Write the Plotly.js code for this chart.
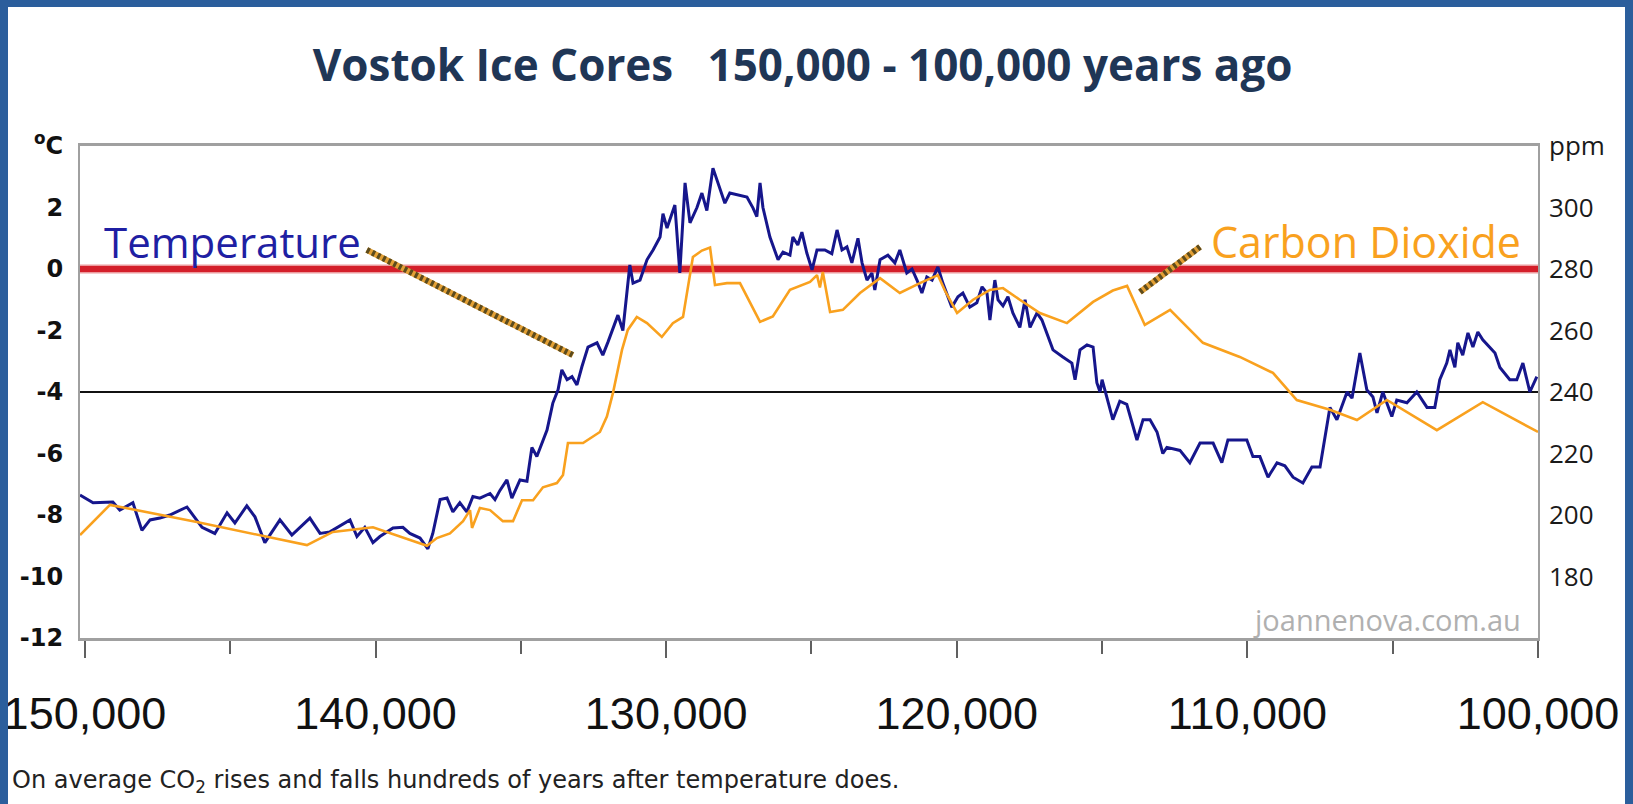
<!DOCTYPE html>
<html>
<head>
<meta charset="utf-8">
<script src="https://cdn.plot.ly/plotly-3.0.1.min.js"></script>
<style>
html,body{margin:0;padding:0;width:1633px;height:804px;overflow:hidden;background:#ffffff;}
#chart{position:absolute;left:0;top:0;width:1633px;height:804px;}
.bd{position:absolute;background:#2b5e9c;pointer-events:none;z-index:10;}
</style>
</head>
<body>
<div id="chart"></div>
<div class="bd" style="left:0;top:0;width:1633px;height:7px;"></div>
<div class="bd" style="left:0;top:0;width:8px;height:804px;"></div>
<div class="bd" style="left:1625px;top:0;width:8px;height:804px;"></div>
<script>
// ---- data (years before present) ----
const tempYears = [150170,149720,149040,148800,148350,148040,147760,147420,147080,146490,145970,145530,145110,144840,144430,144150,143810,143290,142880,142260,141910,141570,140880,140640,140370,140090,139850,139400,139060,138820,138470,138200,138030,137780,137540,137340,137100,136860,136650,136410,136060,135890,135720,135480,135310,135030,134790,134620,134450,134100,133900,133720,133590,133410,133240,133070,132900,132690,132380,132180,132000,131830,131660,131490,131250,131140,130900,130660,130450,130210,130110,129970,129700,129530,129350,129180,128940,128770,128600,128390,128220,127980,127810,127460,127220,127010,126880,126770,126670,126430,126150,125980,125740,125640,125470,125330,125160,124980,124810,124540,124300,124120,123950,123780,123610,123400,123260,123090,122920,122820,122640,122370,122130,121960,121720,121540,121370,121200,121030,120850,120650,120480,120170,119960,119790,119550,119310,119130,118960,118860,118690,118580,118410,118240,118070,117830,117650,117480,117240,117070,116900,116690,116350,116040,115930,115760,115520,115310,115180,115070,115000,114830,114630,114390,114150,113800,113590,113350,113110,112910,112770,112320,111980,111630,111180,110880,110670,110020,109810,109570,109290,108980,108710,108430,108090,107780,107500,107160,106920,106570,106400,106130,105890,105680,105540,105340,105030,104860,104510,104170,103820,103550,103380,103140,103030,102860,102760,102590,102410,102240,102070,101900,101660,101480,101310,100970,100730,100520,100280,100040];
const tempValues = [-7.35,-7.6,-7.58,-7.84,-7.6,-8.5,-8.16,-8.1,-8.0,-7.74,
-8.4,-8.6,-7.93,-8.26,-7.7,-8.06,-8.9,-8.16,-8.65,-8.1,
-8.6,-8.55,-8.16,-8.7,-8.4,-8.9,-8.7,-8.42,-8.4,-8.6,
-8.75,-9.1,-8.6,-7.5,-7.45,-7.9,-7.6,-7.9,-7.4,-7.45,
-7.3,-7.5,-7.2,-6.86,-7.45,-6.86,-6.9,-5.8,-6.1,-5.24,
-4.36,-3.93,-3.28,-3.6,-3.5,-3.77,-3.18,-2.54,-2.4,-2.8,
-2.37,-1.9,-1.5,-2.0,0.13,-0.46,-0.36,0.3,0.62,1.04,
1.8,1.33,2.08,-0.13,2.8,1.5,2.0,2.47,1.9,3.28,
2.8,2.14,2.47,2.4,2.34,1.98,1.7,2.8,2.0,1.04,
0.3,0.55,0.45,1.04,0.78,1.2,0.52,-0.03,0.62,0.62,
0.5,1.27,0.62,0.72,0.2,1.0,0.2,-0.36,-0.13,-0.68,
0.3,0.45,0.2,0.62,-0.13,0.0,-0.36,-0.78,-0.26,-0.36,
0.07,-0.46,-1.24,-0.9,-0.78,-1.24,-1.1,-0.58,-0.78,-1.66,
-0.36,-1.0,-1.2,-0.9,-1.43,-1.9,-1.0,-1.9,-1.43,-1.66,
-2.08,-2.63,-2.86,-3.06,-3.6,-2.63,-2.47,-2.54,-3.7,-4.0,
-3.6,-4.16,-4.9,-4.3,-4.4,-5.56,-4.9,-4.9,-5.3,-6.0,
-5.8,-5.9,-6.3,-5.66,-5.66,-6.3,-5.56,-5.56,-6.1,-6.1,
-6.77,-6.3,-6.4,-6.77,-6.96,-6.44,-6.44,-4.5,-4.9,-4.0,
-4.2,-2.73,-3.93,-4.16,-4.68,-4.0,-4.8,-4.26,-4.35,-4.0,
-4.5,-4.5,-3.6,-3.06,-2.63,-3.2,-2.4,-2.8,-2.08,-2.54,
-2.05,-2.3,-2.54,-2.73,-3.2,-3.6,-3.6,-3.06,-4.0,-3.5];

const co2Years = [150170,149140,146150,142360,141470,140090,138230,137890,137440,136990,136750,136680,136410,136060,135620,135270,134960,134580,134240,133760,133550,133380,132860,132280,132040,131830,131520,131320,131010,130660,130150,129770,129420,129080,128770,128490,128320,127910,127460,127120,126770,126330,125740,125050,124810,124710,124610,124360,123920,123330,122640,121960,121270,120650,120410,119990,119440,118860,118410,117830,117140,116210,115310,114630,114140,113530,112660,111530,110260,109120,108300,107160,106230,105200,103480,101900,100000];
const co2Values = [193.5,203.3,197.7,190.2,194.5,196,190,192.5,194,198,201.6,195.8,202.3,201.6,198,198,204.8,204.8,209,210.4,213,223.4,223.4,227,232,239.7,253.7,260.2,264.4,262.4,257.9,262.4,264.4,283.9,286,287,274.8,275.4,275.4,269,262.8,264.6,273.2,275.8,278,274,279,266,266.7,272.2,277,272.2,275.4,278,273,265.7,270,273.2,273.8,270,265.7,262.4,269.3,273,274.5,261.8,266.7,256,251.4,246.2,237.4,234.2,230.9,237.4,227.6,236.7,227];

if (tempYears.length !== tempValues.length) throw new Error('temp length ' + tempYears.length + ' vs ' + tempValues.length);
if (co2Years.length !== co2Values.length) throw new Error('co2 length ' + co2Years.length + ' vs ' + co2Values.length);

// ---- axis ticks ----
const xTickVals = [150000,140000,130000,120000,110000,100000];
const xTickText = ['150,000','140,000','130,000','120,000','110,000','100,000'];
const tempTickVals = [-12,-10,-8,-6,-4,-2,0,2,4];
const tempTickText = ['-12','-10','-8','-6','-4','-2','0','2','<sup>o</sup>C'];
const grayGridVals = [-12,-10,-8,-6,-2,2,4];
const co2TickVals = [180,200,220,240,260,280,300,320];
const co2TickText = ['180','200','220','240','260','280','300','ppm'];
const zeroLine = 0;
const refLine = -4;

const traces = [
  {x: tempYears, y: tempValues, type: 'scatter', mode: 'lines', name: 'Temperature',
   line: {color: '#16168c', width: 3}, xaxis: 'x', yaxis: 'y'},
  {x: co2Years, y: co2Values, type: 'scatter', mode: 'lines', name: 'Carbon Dioxide',
   line: {color: '#f9a11e', width: 2.6}, xaxis: 'x', yaxis: 'y2'}
];

const layout = {
  width: 1633, height: 804,
  margin: {l: 80, r: 95, t: 146, b: 166, pad: 0},
  paper_bgcolor: '#ffffff', plot_bgcolor: '#ffffff',
  showlegend: false,
  title: {
    text: 'Vostok Ice Cores\u00a0\u00a0\u00a0150,000 - 100,000 years ago',
    font: {family: 'Open Sans', size: 44, color: '#1f3656', weight: 'bold'},
    x: 0.4915, xref: 'container', xanchor: 'center',
    y: 0.919, yref: 'container', yanchor: 'middle'
  },
  xaxis: {
    range: [150170, 100000], showgrid: false, zeroline: false,
    showline: true, linecolor: '#a0a0a0', linewidth: 3, mirror: true,
    tickvals: xTickVals, ticktext: xTickText,
    ticks: 'outside', ticklen: 17, tickwidth: 2, tickcolor: '#606060',
    tickfont: {family: 'Liberation Sans, Arial', size: 45, color: '#111111'},
    ticklabelstandoff: 17, ticklabeloverflow: 'allow',
    minor: {dtick: 5000, tick0: 100000, ticks: 'outside', ticklen: 13, tickwidth: 2, tickcolor: '#606060', showgrid: false},
    automargin: false, fixedrange: true
  },
  xaxis2: {
    range: [150170, 100000], overlaying: 'x', anchor: 'y', side: 'bottom',
    showgrid: false, zeroline: false, showline: false,
    tickvals: xTickVals, showticklabels: false,
    ticks: 'inside', ticklen: 13, tickwidth: 2, tickcolor: '#606060',
    automargin: false
  },
  yaxis: {
    range: [-12, 4], tickvals: tempTickVals, ticktext: tempTickText,
    showgrid: false, zeroline: false,
    showline: true, linecolor: '#a0a0a0', linewidth: 2, mirror: true,
    ticks: '', ticklabelstandoff: 10,
    tickfont: {family: 'DejaVu Sans', size: 24, color: '#111111', weight: 'bold'},
    automargin: false, fixedrange: true
  },
  yaxis3: {
    range: [-12, 4], overlaying: 'y', anchor: 'x', side: 'left',
    tickvals: grayGridVals, showticklabels: false, ticks: '',
    showgrid: true, gridcolor: '#a6a6a6', gridwidth: 2, zeroline: false, showline: false,
    automargin: false, fixedrange: true
  },
  yaxis2: {
    range: [160, 320], overlaying: 'y', side: 'right', anchor: 'x',
    tickvals: co2TickVals, ticktext: co2TickText,
    showgrid: false, zeroline: false, showline: false, ticks: '',
    ticklabelstandoff: 10,
    tickfont: {family: 'Open Sans', size: 26, color: '#1a1a1a'},
    automargin: false, fixedrange: true
  },
  shapes: [
    {type: 'line', xref: 'paper', x0: 0, x1: 1, yref: 'y', y0: refLine, y1: refLine,
     line: {color: '#111111', width: 2}, layer: 'below'},
    {type: 'line', xref: 'paper', x0: 0, x1: 1, yref: 'y', y0: zeroLine, y1: zeroLine,
     line: {color: '#ec9a9d', width: 9}, layer: 'below'},
    {type: 'line', xref: 'paper', x0: 0, x1: 1, yref: 'y', y0: zeroLine, y1: zeroLine,
     line: {color: '#d41f2a', width: 6}, layer: 'below'},
    // pointer lines
    {type: 'line', xref: 'x', yref: 'y', x0: 140300, y0: 0.62, x1: 133210, y1: -2.8,
     line: {color: '#e3a035', width: 6}, layer: 'above'},
    {type: 'line', xref: 'x', yref: 'y', x0: 140300, y0: 0.62, x1: 133210, y1: -2.8,
     line: {color: '#5c4b1d', width: 6, dash: '3px,3px'}, layer: 'above'},
    {type: 'line', xref: 'x', yref: 'y', x0: 111630, y0: 0.72, x1: 113700, y1: -0.75,
     line: {color: '#e3a035', width: 6}, layer: 'above'},
    {type: 'line', xref: 'x', yref: 'y', x0: 111630, y0: 0.72, x1: 113700, y1: -0.75,
     line: {color: '#5c4b1d', width: 6, dash: '3px,3px'}, layer: 'above'}
  ],
  annotations: [
    {text: 'Temperature', xref: 'x', yref: 'y', x: 149420, y: 0.9, xanchor: 'left', yanchor: 'middle',
     showarrow: false, font: {family: 'Open Sans', size: 42, color: '#1f1fa3'}},
    {text: 'Carbon Dioxide', xref: 'x', yref: 'y', x: 100520, y: 0.9, xanchor: 'right', yanchor: 'middle',
     showarrow: false, font: {family: 'Open Sans', size: 43, color: '#f9a11e'}},
    {text: 'joannenova.com.au', xref: 'paper', yref: 'paper', x: 0.9897, y: 0.0386, xanchor: 'right', yanchor: 'middle',
     showarrow: false, font: {family: 'Open Sans', size: 29, color: '#b0b0b0'}},
    {text: 'On average CO<sub>2</sub> rises and falls hundreds of years after temperature does.',
     xref: 'paper', yref: 'paper', x: -0.048, y: -0.2907, xanchor: 'left', yanchor: 'middle',
     showarrow: false, font: {family: 'DejaVu Sans', size: 24, color: '#222222'}}
  ]
};

Plotly.newPlot('chart', traces, layout, {displayModeBar: false, staticPlot: true});
</script>
</body>
</html>
